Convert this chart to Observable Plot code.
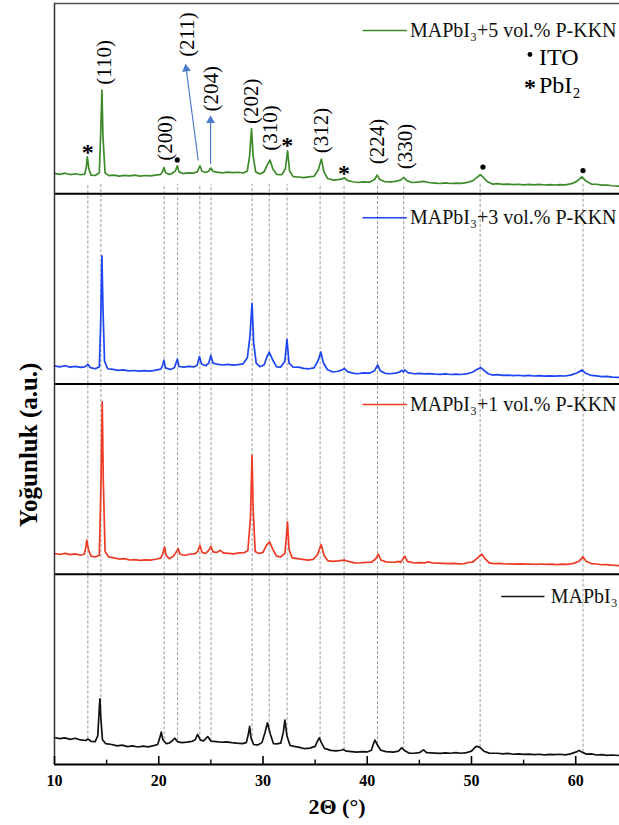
<!DOCTYPE html>
<html><head><meta charset="utf-8">
<script src="https://cdn.jsdelivr.net/npm/d3@7"></script>
<script src="https://cdn.jsdelivr.net/npm/@observablehq/plot@0.6"></script>
<style>body{margin:0;background:#fff}</style>
</head><body><div id="chart"></div>
<script>
// ---------- data: [2θ (°), intensity (a.u., per panel 0–100)] ----------
const mapbi3 = [[10,14.2],[10.5,13.6],[11,14.0],[11.5,13.2],[12,13.8],[12.5,12.9],[13,12.6],[13.2,13.4],[13.5,12.2],[13.9,12.0],[14.15,15],[14.3,30],[14.36,34.5],[14.45,24],[14.6,13],[14.9,11],[15.5,10.5],[16,9.8],[16.5,10.2],[17,9.4],[17.5,9.8],[18,9.2],[18.5,9.7],[19,9.3],[19.5,9.9],[19.9,10.5],[20.1,14],[20.24,17],[20.4,13],[20.7,11],[21.0,11.2],[21.3,12.5],[21.54,13.8],[21.8,12.0],[22.2,11.5],[22.7,11.8],[23.2,12.2],[23.5,13],[23.73,15.8],[24.0,12.8],[24.3,12.4],[24.7,14.7],[25.0,12.3],[25.5,12.0],[26,11.7],[26.5,11.9],[27,11.5],[27.5,11.2],[28,11.0],[28.4,11.5],[28.6,16],[28.72,20.1],[28.85,14],[29.1,10.5],[29.5,10.3],[29.9,11.5],[30.2,17],[30.43,21.9],[30.7,16],[31.0,11],[31.3,10.8],[31.7,11.2],[31.95,17],[32.1,23.3],[32.3,15],[32.6,10],[33,9.5],[33.5,9],[34,8.3],[34.5,8.6],[35,9.5],[35.25,12.5],[35.4,14],[35.6,11.5],[35.9,8.5],[36.5,7.4],[37,7.2],[37.5,7.5],[37.7,7.9],[38,7.0],[38.5,6.8],[39,6.5],[39.5,6.8],[40,6.6],[40.4,7.5],[40.6,11],[40.74,12.8],[40.95,10.5],[41.3,7.5],[41.8,6.8],[42.5,6.5],[43.0,7.0],[43.3,8.8],[43.6,7.2],[44,6.0],[44.5,5.9],[45,6.2],[45.4,7.7],[45.7,6.2],[46.5,6.0],[47,5.8],[47.5,6.1],[48,5.9],[48.5,6.2],[49,5.9],[49.5,6.2],[50.0,7.0],[50.3,8.8],[50.5,9.6],[50.8,9.0],[51.2,7.0],[51.7,6.0],[52.5,5.9],[53,5.6],[53.5,5.8],[54,5.4],[54.5,5.6],[55,5.3],[55.5,5.5],[56,5.2],[56.5,5.4],[57,5.1],[57.5,5.3],[58,5.2],[58.5,5.4],[59,5.1],[59.5,5.6],[60.0,6.5],[60.32,7.4],[60.6,6.5],[61,5.5],[61.5,5.6],[62,5.0],[62.5,5.2],[63,4.8],[63.5,5.0],[64.2,4.7]];

const pkkn1 = [[10,10.9],[10.5,10.4],[11,11.0],[11.5,10.3],[12,10.7],[12.5,10.0],[12.85,10.5],[13.0,14],[13.1,17.9],[13.25,13],[13.5,9.5],[13.9,9.1],[14.3,10],[14.45,45],[14.58,90.6],[14.68,50],[14.85,12],[15.2,9.1],[15.7,8.6],[16.2,8.0],[16.7,8.2],[17.2,7.5],[17.7,7.7],[18.2,7.3],[18.7,7.6],[19.2,7.4],[19.7,7.9],[20.2,8.5],[20.4,11],[20.56,14.4],[20.7,10],[21.0,8.2],[21.4,9.5],[21.65,11.5],[21.86,13.5],[22.05,10.5],[22.5,10.0],[23.0,10.5],[23.5,10.8],[23.75,12],[23.95,15.2],[24.15,11.5],[24.5,10.9],[24.8,12.5],[25.0,14.7],[25.2,11.8],[25.6,11.5],[25.9,12.6],[26.2,11.2],[26.7,11.0],[27.2,10.7],[27.7,11.2],[28.2,11.3],[28.55,12.5],[28.8,30],[28.95,62.5],[29.05,35],[29.25,12],[29.6,10.9],[30.0,11.5],[30.35,15.5],[30.64,17],[30.95,13],[31.3,9.5],[31.7,9.1],[32.1,11],[32.25,20],[32.35,27.5],[32.5,13],[32.8,8.6],[33.3,8.2],[33.8,7.8],[34.3,7.4],[34.8,7.8],[35.2,10],[35.58,15.6],[35.85,10],[36.2,7.2],[36.7,6.8],[37.2,7.0],[37.8,7.4],[38.3,6.6],[38.8,6.0],[39.3,5.9],[39.8,6.2],[40.4,6.3],[40.8,8],[41.08,10.5],[41.3,7.5],[41.8,6.5],[42.3,6.3],[42.7,6.4],[43.0,6.8],[43.2,6.2],[43.6,9.5],[43.85,6.8],[44.5,5.9],[45,6.1],[45.5,6.0],[45.9,6.5],[46.3,5.9],[46.8,5.8],[47.3,5.7],[47.8,5.6],[48.3,5.7],[48.8,5.5],[49.3,5.6],[49.7,6.2],[50.1,6.3],[50.5,8.2],[51.0,10.5],[51.3,8.2],[51.7,6.0],[52.2,5.6],[52.7,5.7],[53.2,5.4],[53.7,5.5],[54.2,5.3],[54.7,5.5],[55.2,5.3],[55.7,5.4],[56.2,5.2],[56.7,5.4],[57.2,5.2],[57.7,5.3],[58.2,5.1],[58.7,5.3],[59.2,5.2],[59.8,5.7],[60.3,6.8],[60.7,9.1],[61.0,6.8],[61.5,5.6],[62,5.4],[62.5,5.0],[63,5.1],[63.5,4.8],[64.2,4.5]];

const pkkn3 = [[10,9.5],[10.5,9.0],[11,9.6],[11.5,8.9],[12,9.3],[12.5,8.7],[12.9,9.0],[13.2,10.3],[13.45,8.6],[13.9,8.0],[14.3,9],[14.42,30],[14.55,67.3],[14.65,40],[14.8,12],[15.1,8],[15.6,7.7],[16.1,7.2],[16.6,7.4],[17.1,6.9],[17.6,7.1],[18.1,6.8],[18.6,7.0],[19.1,6.8],[19.6,7.2],[20.2,7.8],[20.38,10],[20.5,12.5],[20.65,8.5],[21.1,7.6],[21.5,8.5],[21.78,13],[21.95,9.2],[22.4,8.9],[22.9,9.3],[23.4,9.0],[23.7,10],[23.9,14.4],[24.1,10.5],[24.5,9.6],[24.8,11],[25.0,15],[25.2,11],[25.6,10.4],[26.1,10.0],[26.6,10.3],[27.1,9.9],[27.6,10.2],[28.1,10.6],[28.5,13.8],[28.75,25],[28.95,42.4],[29.1,22],[29.35,11],[29.7,9.1],[30.1,10],[30.4,14.5],[30.6,16.8],[30.9,13],[31.3,9.0],[31.7,8.9],[32.1,12],[32.3,23.5],[32.5,11],[32.9,8.8],[33.4,8.9],[33.9,8.2],[34.4,8.0],[34.9,8.5],[35.3,12.5],[35.55,16.8],[35.8,11],[36.2,7.5],[36.7,6.3],[37.2,6.7],[37.6,7.4],[37.8,8.2],[38.1,6.5],[38.6,5.7],[39.1,5.4],[39.6,5.8],[40.2,5.7],[40.7,7],[41.0,10],[41.25,7],[41.7,5.6],[42.2,5.4],[42.7,5.7],[43.1,6.3],[43.3,7.2],[43.45,6.3],[43.6,7.4],[43.9,6],[44.5,5.4],[45,5.6],[45.5,5.3],[46,5.5],[46.5,5.2],[47,5.1],[47.5,5.3],[48,5.0],[48.5,5.2],[49,5.0],[49.5,5.3],[50.1,6.2],[50.5,7.6],[50.9,8.6],[51.2,7.2],[51.6,5.4],[52,4.7],[52.5,4.9],[53,4.5],[53.5,4.7],[54,4.4],[54.5,4.6],[55,4.3],[55.5,4.5],[56,4.2],[56.5,4.4],[57,4.1],[57.5,4.3],[58,4.1],[58.5,4.3],[59,4.2],[59.6,4.8],[60.1,5.8],[60.6,7.4],[60.9,5.8],[61.5,4.5],[62,4.3],[62.5,3.9],[63,4.0],[63.5,3.6],[64.2,3.5]];

const pkkn5 = [[10,10.7],[10.5,10.2],[11,10.8],[11.5,10.1],[12,10.5],[12.5,10.0],[12.9,10.3],[13.05,14],[13.15,19.4],[13.3,13],[13.5,9.8],[13.9,9.6],[14.3,11],[14.45,35],[14.55,54.5],[14.65,30],[14.85,11],[15.2,9.5],[15.7,9.8],[16.2,9.3],[16.7,9.7],[17.2,9.4],[17.7,9.8],[18.2,9.3],[18.7,9.6],[19.2,9.4],[19.7,9.8],[20.2,10.2],[20.38,12],[20.5,13.8],[20.65,11],[21,10.2],[21.3,10.8],[21.6,12],[21.78,14.7],[21.95,11.5],[22.3,10.6],[22.8,11],[23.3,10.8],[23.7,11.5],[23.95,14.7],[24.15,11.8],[24.5,11.2],[24.8,12],[25.0,13.5],[25.2,11.8],[25.6,11.4],[26.1,11.0],[26.6,11.4],[27.1,11.1],[27.6,11.3],[28.1,10.9],[28.5,12],[28.72,20],[28.9,34.3],[29.05,20],[29.3,11.5],[29.7,10.4],[30.1,11.5],[30.4,15],[30.67,17.7],[30.95,13],[31.3,10.2],[31.8,10.0],[32.15,13],[32.36,22.6],[32.55,12],[32.9,9.0],[33.4,8.8],[33.9,8.5],[34.4,8.9],[34.9,9.2],[35.3,12.5],[35.6,18.2],[35.85,11.5],[36.2,8],[36.7,7.2],[37.2,7.4],[37.6,7.8],[37.8,8.4],[38.1,7.0],[38.6,6.3],[39.1,5.9],[39.6,6.2],[40.2,6.1],[40.7,7.5],[40.95,9.8],[41.2,7.5],[41.7,6.3],[42.2,6.2],[42.7,6.5],[43.2,7.2],[43.5,8.6],[43.8,6.9],[44.3,5.9],[44.8,6.1],[45.4,6.5],[45.9,5.9],[46.5,5.6],[47,5.4],[47.5,5.7],[48,5.4],[48.5,5.6],[49,5.5],[49.5,5.8],[50.1,6.8],[50.5,8.5],[50.85,10],[51.1,8.8],[51.5,6.5],[52,5.1],[52.5,5.3],[53,4.9],[53.5,5.1],[54,4.8],[54.5,5.0],[55,4.7],[55.5,4.9],[56,4.7],[56.5,4.9],[57,4.6],[57.5,4.8],[58,4.6],[58.5,4.8],[59,4.7],[59.6,5.3],[60.1,6.5],[60.6,8.9],[60.95,6.8],[61.5,5.1],[62,5.0],[62.5,4.5],[63,4.6],[63.5,4.2],[64.2,4.0]];

// series, bottom to top
const seriesNames  = ["MAPbI₃", "MAPbI₃+1 vol.% P-KKN", "MAPbI₃+3 vol.% P-KKN", "MAPbI₃+5 vol.% P-KKN"];
const seriesColors = ["#111111", "#ee3b26", "#1d45f2", "#3d8a2a"];
const seriesData   = [mapbi3, pkkn1, pkkn3, pkkn5];

// reference peak lines (2θ) and where they end on the bottom trace
const refPeaks   = [13.2, 14.45, 20.52, 21.81, 23.94, 25.02, 28.96, 30.6, 32.31, 35.48, 37.78, 40.99, 43.5, 50.83, 60.7];
const refPeakEnd = [13.4, 30, 13, 12.5, 13, 12.5, 12, 17, 15, 13, 7.8, 10.5, 7.8, 9, 6.5];

// Miller index labels (top panel)
const hklLabels = ["(110)", "(200)", "(211)", "(204)", "(202)", "(310)", "(312)", "(224)", "(330)"];
const hklX      = [14.73, 20.65, 22.74, 25.07, 28.91, 30.73, 35.6, 41.0, 43.61];
const hklY      = [69.1, 29.3, 83.7, 55.2, 48.6, 34.6, 33.2, 27.5, 24.8];

// phase markers (top panel): PbI2 "*" and ITO "•"
const pbi2X = [13.2, 32.33, 37.78];
const pbi2Y = [24.5, 28, 13.3];
const itoX  = [21.78, 51.1, 60.7];
const itoY  = [17.8, 14, 12.2];

// phase key
const keyLabels = ["ITO", "PbI₂"];

// blue arrows (top panel): from peak to label
const arrows = [
  {x1: 23.79, y1: 17.5, x2: 22.63, y2: 65.7, rot: -7.5},
  {x1: 24.97, y1: 15.7, x2: 24.97, y2: 38.5, rot: 0}
];

const majorTicks = [10, 20, 30, 40, 50, 60];
const minorTicks = [15, 25, 35, 45, 55];

// ---------- build ----------
const PANEL = 100;
const traces = seriesData.flatMap((arr, i) =>
  arr.map(([x, y]) => ({x, y: y + i * PANEL, s: i})));
const topBase = 3 * PANEL;

const legendX1 = [52.9, 39.59, 39.59, 39.59];
const legendX2 = [57.05, 43.85, 43.85, 43.85];
const legendTX = [57.6, 44.1, 44.1, 44.1];
const legendY  = [88.3, 89.2, 87.4, 85.8];
const legend = seriesNames.map((name, i) => ({
  name, color: seriesColors[i], x1: legendX1[i], x2: legendX2[i], tx: legendTX[i], y: legendY[i] + i * PANEL
}));

const serif = "'Liberation Serif','Times New Roman',serif";

const chart = Plot.plot({
  width: 619, height: 825,
  marginLeft: 54, marginRight: 0, marginTop: 3, marginBottom: 61,
  x: {domain: [10, 64.2]},
  y: {domain: [0, 4 * PANEL], axis: null},
  color: {type: "identity"},
  style: {fontFamily: serif, background: "#fff", color: "#000", overflow: "visible"},
  marks: [
    Plot.ruleX(refPeaks.map((x, i) => ({x, y1: refPeakEnd[i], y2: topBase + 5})),
      {x: "x", y1: "y1", y2: "y2", stroke: "#7d7d7d", strokeWidth: 0.8, strokeDasharray: "3,2"}),
    Plot.line(traces, {x: "x", y: "y", z: "s", stroke: d => seriesColors[d.s], strokeWidth: 1.7, curve: "linear"}),
    Plot.ruleY([0, PANEL, 2 * PANEL, 3 * PANEL], {stroke: "#000", strokeWidth: 2.2}),
    Plot.ruleY([4 * PANEL], {stroke: "#555", strokeWidth: 1.5}),
    Plot.ruleX([10], {stroke: "#333", strokeWidth: 1.5}),
    Plot.ruleX(majorTicks, {x: d => d, y1: 0, y2: 4.2, stroke: "#000", strokeWidth: 1.6}),
    Plot.ruleX(minorTicks, {x: d => d, y1: 0, y2: 2.3, stroke: "#000", strokeWidth: 1.4}),
    Plot.axisX({ticks: majorTicks, tickSize: 0, tickPadding: 10, fontSize: 16, fontWeight: "bold", label: null, tickFormat: d => String(d)}),
    Plot.text(["2Θ (°)"], {frameAnchor: "bottom", dy: 49, fontSize: 22, fontWeight: "bold", fontFamily: serif}),
    Plot.text(["Yoğunluk (a.u.)"], {x: 10, y: 168, rotate: -90, dx: -26, fontSize: 25, fontWeight: "bold", fontFamily: serif}),
    Plot.ruleY(legend, {x1: "x1", x2: "x2", y: "y", stroke: "color", strokeWidth: 1.6}),
    Plot.text(legend, {x: "tx", y: "y", text: "name", textAnchor: "start", fontSize: 20, fontFamily: serif, fill: "#111"}),
    // phase key: markers + two-line label
    Plot.dot([{x: 55.61, y: 373.2}], {x: "x", y: "y", r: 2.4, fill: "#000", stroke: null}),
    Plot.text([{x: 55.61, y: 358.6}], {x: "x", y: "y", text: () => "*", fontSize: 24, fontWeight: "bold", dy: 5, fontFamily: serif}),
    Plot.text([keyLabels.join("\n")], {x: () => 56.48, y: () => 377.9, textAnchor: "start", lineAnchor: "top", lineHeight: 1.15, fontSize: 24, fontFamily: serif}),
    Plot.text(hklLabels, {x: (d, i) => hklX[i], y: (d, i) => hklY[i] + topBase, text: d => d, rotate: -90, fontSize: 21, fontFamily: serif}),
    Plot.text(pbi2X, {x: d => d, y: (d, i) => pbi2Y[i] + topBase, text: () => "*", fontSize: 24, fontWeight: "bold", dy: 5, fontFamily: serif}),
    Plot.dot(itoX, {x: d => d, y: (d, i) => itoY[i] + topBase, r: 2.6, fill: "#000", stroke: null}),
    Plot.link(arrows, {x1: "x1", y1: d => d.y1 + topBase, x2: "x2", y2: d => d.y2 + topBase, stroke: "#4f7bcf", strokeWidth: 1.2}),
    Plot.dot(arrows, {x: "x2", y: d => d.y2 + topBase, symbol: "triangle", r: 3.3, fill: "#4f7bcf", stroke: null, rotate: "rot"})
  ]
});
chart.querySelectorAll('[aria-label="x-axis tick label"]').forEach(g => {
  g.setAttribute("font-size", "16");
  g.setAttribute("font-weight", "bold");
});
document.getElementById("chart").appendChild(chart);
</script>
</body></html>
